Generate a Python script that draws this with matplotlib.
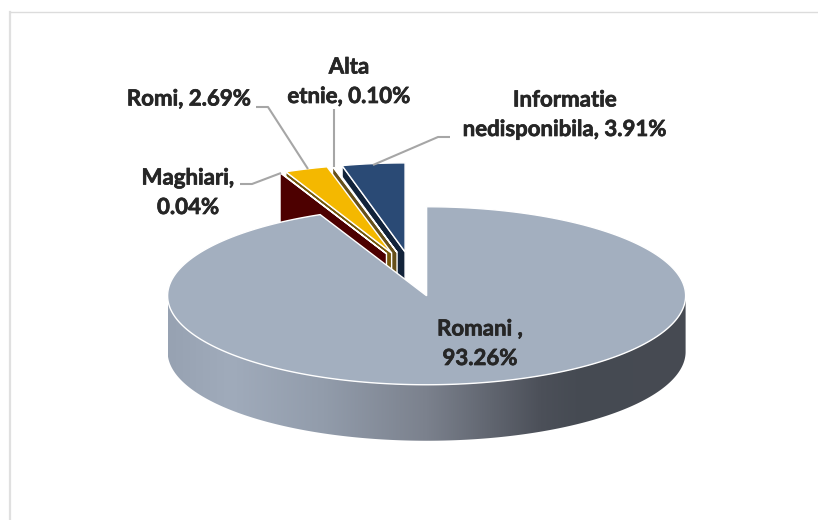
import numpy as np
import matplotlib
matplotlib.use('Agg')
import matplotlib.pyplot as plt
import matplotlib.patheffects as pe
from matplotlib.colors import LinearSegmentedColormap
from matplotlib.patches import Polygon

# Data
categories = ['Romani', 'Maghiari', 'Romi', 'Alta etnie', 'Informatie nedisponibila']
values = [93.26, 0.04, 2.69, 0.10, 3.91]
top_colors = ['#a3afbf', '#4d0000', '#f4b800', '#7a5c10', '#2a4a75']
wall_colors = ['#a3afbf', '#4d0000', '#75580a', '#66501a', '#12233a']
labels = [['Romani ,', '93.26%'], ['Maghiari,', '0.04%'], ['Romi, 2.69%'],
          ['Alta', 'etnie, 0.10%'], ['Informatie', 'nedisponibila, 3.91%']]
label_pos = [(480, 329), (188, 178), (189, 99), (349, 67), (565, 100)]

# Leader lines, pixels
leaders = [[(240, 184), (252, 184), (281, 173)],
           [(256, 107), (268, 107), (308, 169)],
           [(334, 109), (334, 167)],
           [(450, 137), (438, 137), (373, 165)]]

# Pie geometry, pixels
cx, cy = 413, 274
rx, ry = 259, 89
depth = 56
explode = 0.25

plt.rcParams['font.family'] = ['Lato', 'DejaVu Sans']
fig = plt.figure(figsize=(8.18, 5.2), dpi=100)
ax = fig.add_axes([0, 0, 1, 1])
ax.set_xlim(0, 818)
ax.set_ylim(520, 0)
ax.axis('off')

# Frame, only top and left show
ax.plot([10, 10], [12, 520], color='#e0e0e0', lw=1.6, zorder=1)
ax.plot([10, 818], [12, 12], color='#dcdcdc', lw=1.0, zorder=1)


def arc(a0, a1, x0, y0):
    # angles in degrees clockwise from the top
    t = np.radians(np.linspace(a0, a1, max(2, int(abs(a1 - a0) * 2))))
    return np.column_stack([x0 + rx * np.sin(t), y0 - ry * np.cos(t)])


bounds = np.concatenate([[0], np.cumsum(values)]) / sum(values) * 360
mids = (bounds[:-1] + bounds[1:]) / 2
apex = [(cx + explode * rx * np.sin(np.radians(m)), cy - explode * ry * np.cos(np.radians(m))) for m in mids]

# Exploded slices, back to front
z = 3
for i in [4, 3, 2, 1]:
    x0, y0 = apex[i]
    a0, a1 = bounds[i], bounds[i + 1]
    outer = arc(a0, a0, x0, y0)[0]
    wall = [outer, (x0, y0), (x0, y0 + depth), (outer[0], outer[1] + depth)]
    ax.add_patch(Polygon(wall, closed=True, facecolor=wall_colors[i], edgecolor='white', lw=1.0, zorder=z))
    top = np.vstack([[(x0, y0)], arc(a0, a1, x0, y0)])
    ax.add_patch(Polygon(top, closed=True, facecolor=top_colors[i], edgecolor='white', lw=1.0, zorder=z + 1))
    z += 2

# Romani: side wall with gradient, then top
x0, y0 = apex[0]
front = arc(90, 270, x0, y0)
wall = np.vstack([front, (front + [0, depth])[::-1]])
wall_patch = Polygon(wall, closed=True, facecolor='none', edgecolor='none', zorder=z)
ax.add_patch(wall_patch)
cmap = LinearSegmentedColormap.from_list('side', [(0, '#97a2b2'), (0.12, '#a0abbb'), (0.3, '#929cab'),
                                                  (0.5, '#7b818d'), (0.72, '#4c5059'), (0.8, '#454a52'),
                                                  (1, '#474b53')])
img = ax.imshow(np.linspace(0, 1, 256)[None, :], cmap=cmap, aspect='auto', zorder=z,
                extent=(x0 - rx, x0 + rx, y0 + ry + depth, y0))
img.set_clip_path(wall_patch)
ax.set_xlim(0, 818)
ax.set_ylim(520, 0)
top = np.vstack([[(x0, y0)], arc(bounds[0], bounds[1], x0, y0)])
ax.add_patch(Polygon(top, closed=True, facecolor=top_colors[0], edgecolor='white', lw=1.0, zorder=z + 1))

# Leader lines
for line in leaders:
    xs, ys = zip(*line)
    ax.plot(xs, ys, color='#a6a6a6', lw=1.5, zorder=20, solid_capstyle='butt')

# Labels, thin stroke because the reference font is heavier
for lines, (x, y) in zip(labels, label_pos):
    for k, s in enumerate(lines):
        ax.text(x, y + k * 29.5, s, ha='center', va='center', fontsize=16, fontweight='bold',
                color='#262626', zorder=21,
                path_effects=[pe.withStroke(linewidth=0.5, foreground='#262626')])

fig.savefig('out.png', dpi=100)
